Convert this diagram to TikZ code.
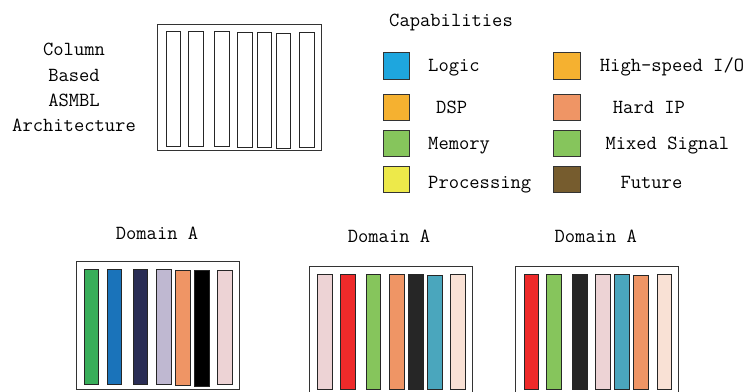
\documentclass[tikz,border=0pt]{standalone}
\usepackage{fontspec}
\begin{document}
\begin{tikzpicture}[x=1pt,y=-1pt,
  txt/.style={font=\ttfamily\fontsize{20}{24}\selectfont,inner sep=0pt},
  frame/.style={draw=black!80,line width=0.9pt,fill=white},
  col/.style={draw=black!85,line width=0.8pt},
  swatch/.style={draw=black!80,line width=0.9pt}]
\definecolor{clogic}{RGB}{30,166,222}
\definecolor{cdsp}{RGB}{245,177,48}
\definecolor{chard}{RGB}{239,149,101}
\definecolor{cmem}{RGB}{134,197,92}
\definecolor{cproc}{RGB}{237,233,74}
\definecolor{cfut}{RGB}{118,92,46}
\definecolor{cgreen}{RGB}{56,174,90}
\definecolor{cblue}{RGB}{26,115,186}
\definecolor{cnavy}{RGB}{42,45,85}
\definecolor{clav}{RGB}{191,184,209}
\definecolor{cpink}{RGB}{237,211,213}
\definecolor{cred}{RGB}{238,42,42}
\definecolor{cdark}{RGB}{38,38,38}
\definecolor{cteal}{RGB}{74,166,189}
\definecolor{cpeach}{RGB}{249,225,213}
\useasboundingbox[fill=white] (0,0) rectangle (754,391);

% column based architecture
\foreach \w/\y [count=\i] in {Column/55, Based/81, ASMBL/106.7, Architecture/131.7}
  \node[txt,anchor=base] (arch\i) at (74,\y) {\w};
\draw[frame] (157.7,24) rectangle (321,150.7);
\foreach \a/\b/\t/\u in {166/180.3/31.3/146.7, 188.3/203.3/31.7/146.7, 214.3/229.3/31.3/146.7,
  237.7/252.7/32/147.3, 257/271.7/32.3/147.3, 276/290.7/33/148.3, 299.3/314/32.3/147}
  \draw[col] (\a,\t) rectangle (\b,\u);

% capabilities legend (swatch top / label baseline)
\node[txt,anchor=base west] (cap) at (389,26.7) {Capabilities};
\foreach \y/\bl/\c/\lab/\lx [count=\i] in {52.3/71.9/clogic/Logic/428, 94/113.8/cdsp/DSP/436,
  130/149.8/cmem/Memory/428, 166/188.5/cproc/Processing/428}{
  \draw[swatch,fill=\c] (383,\y) rectangle ++(26.7,26.7);
  \node[txt,anchor=base west] (l\i) at (\lx,\bl) {\lab};
}
\foreach \y/\bl/\c/\lab/\lx [count=\i] in {52.3/71.9/cdsp/{High-speed I/O}/599.7, 94/113.8/chard/Hard IP/612.7,
  130/149.8/cmem/Mixed Signal/605.3, 166/188.5/cfut/Future/620.3}{
  \draw[swatch,fill=\c] (553.7,\y) rectangle ++(26.7,26.7);
  \node[txt,anchor=base west] (r\i) at (\lx,\bl) {\lab};
}

% domain 1
\node[txt,anchor=base] (d1) at (157,239.3) {Domain A};
\draw[frame] (76.7,261.7) rectangle (239.3,389.3);
\foreach \a/\b/\t/\u/\c in {84.3/98.7/269/384.3/cgreen, 107/121.7/269/384.3/cblue, 133/147.7/269/384.3/cnavy,
  156.3/171.3/269/384.3/clav, 175.3/190.3/270/385.7/chard, 194.3/209.7/270/386/black, 217.7/232.7/270/384.3/cpink}
  \draw[col,fill=\c] (\a,\t) rectangle (\b,\u);

% domain 2
\node[txt,anchor=base] (d2) at (389,242.7) {Domain A};
\draw[frame] (309.3,266) rectangle (472.3,395);
\foreach \a/\b/\t/\c in {317.3/332/274/cpink, 340/355/274/cred, 366/380.7/274/cmem, 389.3/404.3/274/chard,
  408.3/423.3/274/cdark, 427.7/442.3/275.7/cteal, 450.7/465.7/274/cpeach}
  \draw[col,fill=\c] (\a,\t) rectangle (\b,389.3);

% domain 3
\node[txt,anchor=base] (d3) at (595.8,242.7) {Domain A};
\draw[frame] (515.7,266.7) rectangle (678.7,395);
\foreach \a/\b/\t/\c in {524/538.3/274/cred, 546.3/561/274/cmem, 572/587/274/cdark, 595.7/610.7/274/cpink,
  614.7/629.7/274/cteal, 633.7/648.7/275.7/chard, 657/671.7/274/cpeach}
  \draw[col,fill=\c] (\a,\t) rectangle (\b,389.3);
\end{tikzpicture}
\end{document}
